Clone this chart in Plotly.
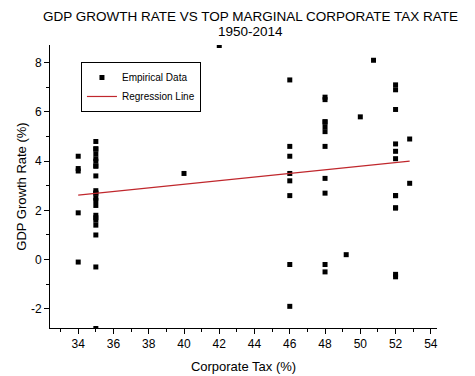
import plotly.graph_objects as go

# Corporate tax rate (%) per observation
tax_rate = (
    [42.0, 50.75] + [52.0] * 12 + [50.0] + [48.0] * 3 + [52.8] * 2 + [49.2]
    + [48.0] * 8 + [46.0] * 8 + [40.0] + [34.0] * 5 + [35.0] * 22
)
# GDP growth rate (%) per observation
gdp_growth = (
    [8.7, 8.1]
    + [7.1, 6.9, 6.1, 4.7, 4.4, 4.1, 2.6, 2.6, 2.1, 2.1, -0.6, -0.7]
    + [5.8]
    + [6.6, 6.5, 2.7]
    + [4.9, 3.1]
    + [0.2]
    + [5.6, 5.6, 5.4, 5.2, 4.6, 3.3, -0.2, -0.5]
    + [7.3, 4.6, 4.2, 3.5, 3.2, 2.6, -0.2, -1.9]
    + [3.5]
    + [4.2, 3.7, 3.6, 1.9, -0.1]
    + [4.8, 4.5, 4.5, 4.3, 4.1, 4.0, 3.8, 3.8, 3.4, 2.8, 2.7, 2.7,
       2.5, 2.4, 2.2, 1.8, 1.7, 1.6, 1.4, 1.0, -0.3, -2.8]
)
# Regression line endpoints
reg_x = [34.0, 52.8]
reg_y = [2.62, 4.0]

x_ticks = [34, 36, 38, 40, 42, 44, 46, 48, 50, 52, 54]
y_ticks = [-2, 0, 2, 4, 6, 8]

title_lines = ["GDP GROWTH RATE VS TOP MARGINAL CORPORATE TAX RATE", "1950-2014"]

font = "Liberation Sans, Arial, sans-serif"

fig = go.Figure()
fig.add_trace(go.Scatter(
    x=tax_rate, y=gdp_growth, mode="markers", name="Empirical Data",
    marker=dict(symbol="square", size=5, color="black"),
))
fig.add_trace(go.Scatter(
    x=reg_x, y=reg_y, mode="lines", name="Regression Line",
    line=dict(color="#c0272d", width=1.2),
))

fig.add_annotation(text=title_lines[0], xref="paper", yref="paper",
                   x=0.518, y=1.099, xanchor="center", yanchor="middle",
                   showarrow=False, font=dict(family=font, size=13.5, color="black"))
fig.add_annotation(text=title_lines[1], xref="paper", yref="paper",
                   x=0.518, y=1.049, xanchor="center", yanchor="middle",
                   showarrow=False, font=dict(family=font, size=13.5, color="black"))

fig.update_layout(
    width=475, height=376,
    margin=dict(l=42, r=46, t=37, b=56),
    paper_bgcolor="white", plot_bgcolor="white",
    font=dict(family=font, color="black", size=12),
    showlegend=True,
    legend=dict(
        x=0.08, y=0.94, xanchor="left", yanchor="top",
        bordercolor="black", borderwidth=1, bgcolor="white",
        font=dict(family=font, size=10, color="black"),
        tracegroupgap=0, itemwidth=30,
    ),
    xaxis=dict(
        range=[32.4, 54.35], tickvals=x_ticks, ticktext=[str(v) for v in x_ticks],
        showgrid=False, zeroline=False, showline=True, linecolor="black", linewidth=1,
        ticks="outside", ticklen=5, tickcolor="black", automargin=False,
        minor=dict(ticks="outside", dtick=1, tick0=0, ticklen=3, tickcolor="black"),
        title=dict(text="Corporate Tax (%)", font=dict(size=13), standoff=11),
        tickfont=dict(size=12),
    ),
    yaxis=dict(
        range=[-2.78, 8.72], tickvals=y_ticks, ticktext=[str(v) for v in y_ticks],
        showgrid=False, zeroline=False, showline=True, linecolor="black", linewidth=1,
        ticks="outside", ticklen=5, tickcolor="black", automargin=False,
        minor=dict(ticks="outside", dtick=1, tick0=0, ticklen=3, tickcolor="black"),
        title=dict(text="GDP Growth Rate (%)", font=dict(size=13), standoff=1),
        tickfont=dict(size=12),
    ),
)

fig.write_html("out.html")
